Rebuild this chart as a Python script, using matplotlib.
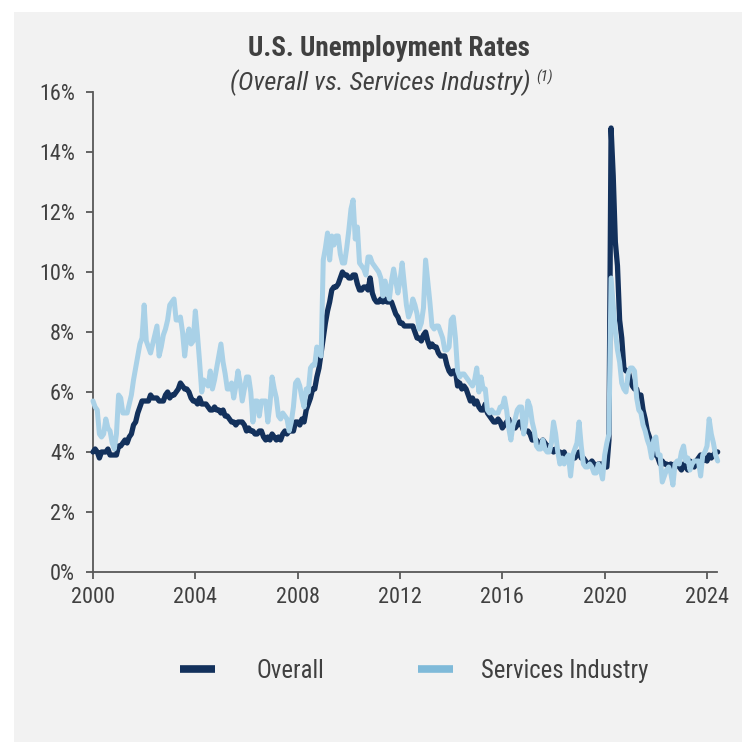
import matplotlib
matplotlib.use('Agg')
import matplotlib.pyplot as plt
from matplotlib import font_manager as fm
from matplotlib.lines import Line2D
from matplotlib.patches import Rectangle
import numpy as np

names = {f.name for f in fm.fontManager.ttflist}
FONT = 'Liberation Sans'
for cand in ['Liberation Sans Narrow', 'Nimbus Sans Narrow', 'Arial Narrow',
             'Roboto Condensed', 'Archivo Narrow', 'PT Sans Narrow']:
    if cand in names:
        FONT = cand
        break
plt.rcParams['font.family'] = [FONT, 'Liberation Sans', 'DejaVu Sans']

# ---------------- data (monthly, starting Jan 2000) ----------------
start_year = 2000
overall = [
    4.0, 4.1, 4.0, 3.8, 4.0, 4.0, 4.0, 4.1, 3.9, 3.9, 3.9, 3.9,
    4.2, 4.2, 4.3, 4.4, 4.3, 4.5, 4.6, 4.9, 5.0, 5.3, 5.5, 5.7,
    5.7, 5.7, 5.7, 5.9, 5.8, 5.8, 5.8, 5.7, 5.7, 5.7, 5.9, 6.0,
    5.8, 5.9, 5.9, 6.0, 6.1, 6.3, 6.2, 6.1, 6.1, 6.0, 5.8, 5.7,
    5.7, 5.6, 5.8, 5.6, 5.6, 5.6, 5.5, 5.4, 5.4, 5.5, 5.4, 5.4,
    5.3, 5.4, 5.2, 5.2, 5.1, 5.0, 5.0, 4.9, 5.0, 5.0, 5.0, 4.9,
    4.7, 4.8, 4.7, 4.7, 4.6, 4.6, 4.7, 4.7, 4.5, 4.4, 4.5, 4.4,
    4.6, 4.5, 4.4, 4.5, 4.4, 4.6, 4.7, 4.6, 4.7, 4.7, 4.7, 5.0,
    5.0, 4.9, 5.1, 5.0, 5.4, 5.6, 5.8, 6.1, 6.1, 6.5, 6.8, 7.3,
    7.8, 8.3, 8.7, 9.0, 9.4, 9.5, 9.5, 9.6, 9.8, 10.0, 9.9, 9.9,
    9.8, 9.8, 9.9, 9.9, 9.6, 9.4, 9.4, 9.5, 9.5, 9.4, 9.8, 9.3,
    9.1, 9.0, 9.0, 9.1, 9.0, 9.1, 9.0, 9.0, 9.0, 8.8, 8.6, 8.5,
    8.3, 8.3, 8.2, 8.2, 8.2, 8.2, 8.2, 8.0, 7.8, 7.8, 7.7, 7.9,
    8.0, 7.7, 7.5, 7.6, 7.5, 7.5, 7.3, 7.2, 7.2, 7.2, 6.9, 6.7,
    6.6, 6.7, 6.7, 6.2, 6.3, 6.1, 6.2, 6.1, 5.9, 5.7, 5.8, 5.6,
    5.7, 5.5, 5.4, 5.4, 5.6, 5.3, 5.2, 5.1, 5.0, 5.0, 5.1, 5.0,
    4.8, 4.9, 5.0, 5.1, 4.8, 4.9, 4.8, 4.9, 5.0, 4.9, 4.7, 4.7,
    4.7, 4.6, 4.4, 4.4, 4.4, 4.3, 4.3, 4.4, 4.3, 4.2, 4.2, 4.1,
    4.0, 4.1, 4.0, 4.0, 3.8, 4.0, 3.8, 3.8, 3.7, 3.8, 3.8, 3.9,
    4.0, 3.8, 3.8, 3.7, 3.6, 3.6, 3.7, 3.6, 3.5, 3.6, 3.6, 3.6,
    3.5, 3.5, 4.4, 14.8, 13.2, 11.0, 10.2, 8.4, 7.8, 6.8, 6.7, 6.7,
    6.4, 6.2, 6.1, 6.1, 5.8, 5.9, 5.4, 5.1, 4.7, 4.5, 4.2, 3.9,
    4.0, 3.8, 3.6, 3.7, 3.6, 3.6, 3.5, 3.6, 3.5, 3.6, 3.6, 3.5,
    3.4, 3.6, 3.5, 3.4, 3.7, 3.6, 3.5, 3.7, 3.8, 3.9, 3.7, 3.8,
    3.7, 3.9, 3.8, 3.9, 4.0, 4.0,
]
services = [
    5.7, 5.5, 5.4, 4.6, 4.5, 4.6, 5.1, 4.8, 4.7, 4.3, 4.1, 4.6,
    5.9, 5.8, 5.3, 5.3, 5.3, 5.6, 5.9, 6.4, 6.8, 7.2, 7.6, 7.8,
    8.9, 7.7, 7.5, 7.3, 7.6, 7.9, 8.2, 7.2, 7.5, 7.9, 8.1, 8.4,
    8.9, 9.0, 9.1, 8.4, 8.4, 8.5, 8.0, 7.2, 7.8, 8.1, 7.6, 7.7,
    8.7, 7.9, 7.0, 6.0, 6.4, 6.3, 6.2, 6.7, 6.1, 6.4, 6.8, 7.2,
    7.6, 7.0, 6.6, 6.1, 6.1, 6.3, 5.8, 6.2, 6.7, 6.3, 5.7, 6.1,
    6.5, 6.5, 6.0, 5.0, 5.7, 5.7, 5.2, 5.7, 5.7, 5.7, 5.0, 5.6,
    6.5, 6.1, 5.8, 5.2, 5.1, 5.3, 5.2, 5.1, 4.7, 5.0, 5.5, 6.3,
    6.4, 6.2, 5.8, 5.5, 6.1, 6.0, 6.8, 6.9, 6.9, 7.5, 7.3, 7.2,
    10.4, 10.8, 11.3, 10.4, 11.2, 10.9, 11.2, 11.2, 10.6, 10.3, 10.3, 10.8,
    11.4, 12.1, 12.4, 11.1, 11.5, 10.3, 10.2, 10.1, 9.9, 10.5, 10.5, 10.3,
    10.2, 10.1, 10.0, 9.8, 9.2, 9.7, 9.4, 9.1, 9.7, 10.1, 9.7, 9.3,
    9.7, 10.3, 9.6, 8.9, 8.5, 8.7, 9.1, 8.9, 8.6, 8.1, 8.3, 8.8,
    10.4, 9.7, 9.0, 8.2, 8.1, 8.2, 8.2, 8.0, 7.8, 7.4, 7.4, 7.5,
    8.4, 8.5, 7.8, 6.7, 6.5, 6.6, 6.6, 6.5, 6.4, 6.3, 6.2, 6.4,
    6.8, 6.0, 6.5, 6.1, 6.1, 5.4, 5.3, 5.4, 5.3, 5.3, 5.3, 5.5,
    5.5, 5.8, 5.4, 4.8, 4.4, 4.9, 5.1, 5.4, 5.5, 5.5, 4.6, 5.0,
    5.7, 5.5, 5.0, 4.7, 4.2, 4.1, 4.1, 4.4, 4.1, 4.0, 4.0, 4.3,
    5.0, 4.6, 4.0, 3.6, 3.8, 3.6, 3.8, 3.9, 3.2, 3.9, 4.1, 4.3,
    5.0, 4.2, 3.6, 3.5, 3.5, 3.6, 3.5, 3.3, 3.3, 3.6, 3.4, 3.1,
    3.9, 4.3, 4.6, 9.8, 8.9, 8.0, 7.4, 7.0, 6.3, 6.1, 6.0, 6.6,
    6.8, 6.8, 6.7, 5.8, 5.4, 5.3, 4.9, 4.7, 4.4, 4.2, 3.8, 4.4,
    4.5, 3.9, 3.9, 3.0, 3.2, 3.4, 3.5, 3.3, 2.9, 3.6, 3.7, 3.6,
    4.0, 4.2, 3.7, 3.8, 3.4, 3.6, 3.7, 3.7, 3.7, 3.2, 3.9, 4.0,
    4.2, 5.1, 4.6, 4.3, 3.9, 3.7,
]
x_ticks = [2000, 2004, 2008, 2012, 2016, 2020, 2024]
y_ticks = [0, 2, 4, 6, 8, 10, 12, 14, 16]
series_labels = ['Overall', 'Services Industry']
title = 'U.S. Unemployment Rates'
subtitle = '(Overall vs. Services Industry)'
footnote_mark = '(1)'

# ---------------- styling ----------------
W = H = 742
DARK = '#13315c'
LIGHT = '#a9d1e7'
LIGHT_LEG = '#7fbad9'
TXT = '#404040'
AXC = '#595959'
BG = '#f2f2f2'

fig = plt.figure(figsize=(W / 100, H / 100), dpi=100)
fig.patch.set_facecolor('white')
fig.patches.append(Rectangle((14 / W, 0), 1 - 14 / W, 1 - 12 / H,
                             transform=fig.transFigure, facecolor=BG,
                             edgecolor='none', zorder=-5))

ax = fig.add_axes([93 / W, 1 - 572 / H, (717 - 93) / W, (572 - 92) / H])
ax.set_facecolor('none')

t = start_year + np.arange(len(overall)) / 12.0
ts = start_year + np.arange(len(services)) / 12.0
ax.plot(t, overall, color=DARK, lw=3.8, solid_joinstyle='round',
        solid_capstyle='round', zorder=3, clip_on=False)
ax.plot(ts, services, color=LIGHT, lw=3.6, solid_joinstyle='round',
        solid_capstyle='round', zorder=4, clip_on=False)

ax.set_xlim(2000, 2024.39)
ax.set_ylim(0, 16)
ax.set_xticks(x_ticks)
ax.set_xticklabels([str(v) for v in x_ticks])
ax.set_yticks(y_ticks)
ax.set_yticklabels([f'{v}%' for v in y_ticks])

for s in ['top', 'right']:
    ax.spines[s].set_visible(False)
for s in ['left', 'bottom']:
    ax.spines[s].set_color(AXC)
    ax.spines[s].set_linewidth(1.3)
ax.tick_params(axis='both', direction='out', length=5, width=1.3,
               color=AXC, labelcolor=TXT, labelsize=16)
ax.tick_params(axis='y', pad=8)
ax.tick_params(axis='x', pad=6)

fig.text(389 / W, 1 - 48 / H, title, ha='center', va='center',
         fontsize=19.5, fontweight='bold', color=TXT)
fig.text(530 / W, 1 - 83 / H, subtitle, ha='right', va='center',
         fontsize=19, fontstyle='italic', color=TXT)
fig.text(536 / W, 1 - 77 / H, footnote_mark, ha='left', va='center',
         fontsize=11, fontstyle='italic', color=TXT)

# legend: two entries placed separately to match the reference spacing
leg_colors = [DARK, LIGHT_LEG]
leg_centers = [252, 533]
leg_pads = [1.68, 1.13]
for lab, col, cx, pad in zip(series_labels, leg_colors, leg_centers, leg_pads):
    h = Line2D([], [], color=col, lw=5.5, solid_capstyle='butt')
    fig.legend([h], [lab], loc='center', bbox_to_anchor=(cx / W, 1 - 671 / H),
               frameon=False, fontsize=17.8, handlelength=1.42,
               handletextpad=pad, borderpad=0, borderaxespad=0,
               labelcolor=TXT)

fig.savefig('out.png', dpi=100, facecolor=fig.get_facecolor())
